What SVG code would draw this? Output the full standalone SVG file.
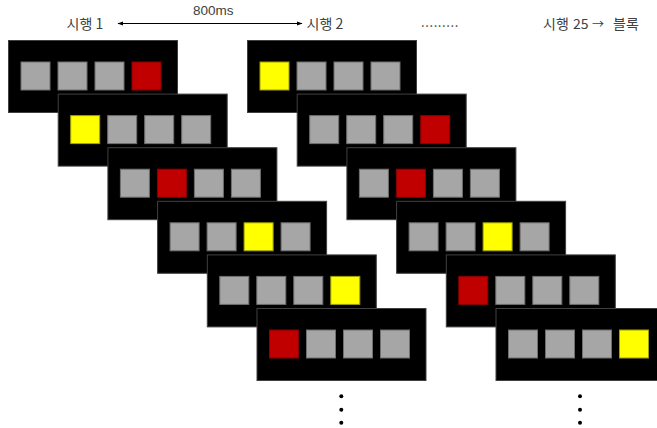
<svg xmlns="http://www.w3.org/2000/svg" width="657" height="428" viewBox="0 0 657 428">
<defs>
<style>
.panel{fill:#000;stroke:#404040;stroke-width:1}
.g{fill:#a6a6a6;stroke:#6f6f6f;stroke-width:1}
.r{fill:#c00000;stroke:#8a0000;stroke-width:1}
.y{fill:#ffff00;stroke:#a0a000;stroke-width:1}
.lbl{font-family:"Noto Sans CJK KR","Liberation Sans",sans-serif;font-size:14px;fill:#404040}
.dot{fill:#000}
</style>
<marker id="ah" viewBox="0 0 10 10" refX="9" refY="5" markerWidth="6" markerHeight="6" orient="auto-start-reverse" markerUnits="userSpaceOnUse">
<path d="M0,1.5 L10,5 L0,8.5 Z" fill="#000"/>
</marker>
</defs>
<rect width="657" height="428" fill="#fff"/>

<g id="labels">
<text class="lbl" x="66.5" y="29">시행 1</text>
<text class="lbl" x="193" y="15" style="font-family:'Liberation Sans',sans-serif;font-size:13.5px">800ms</text>
<text class="lbl" x="306.5" y="29">시행 2</text>
<text class="lbl" x="421" y="27" style="letter-spacing:0.6px;font-size:13px">.........</text>
<text class="lbl" x="543" y="29">시행</text>
<text class="lbl" x="573" y="29">25</text>
<text class="lbl" x="592" y="29" style="font-size:12px">→</text>
<text class="lbl" x="613" y="29">블록</text>
</g>

<g id="connectors">
<line x1="118" y1="23.5" x2="302" y2="23.5" stroke="#000" stroke-width="1" marker-start="url(#ah)" marker-end="url(#ah)"/>
</g>

<!-- Left column -->
<g id="L1" transform="translate(8,40)"><rect class="panel" x="0.5" y="0.5" width="169" height="72"/><rect class="g" x="13" y="22" width="29" height="28"/><rect class="g" x="50" y="22" width="29" height="28"/><rect class="g" x="87" y="22" width="29" height="28"/><rect class="r" x="124" y="22" width="29" height="28"/></g>
<g id="L2" transform="translate(57.7,93.6)"><rect class="panel" x="0.5" y="0.5" width="169" height="72"/><rect class="y" x="13" y="22" width="29" height="28"/><rect class="g" x="50" y="22" width="29" height="28"/><rect class="g" x="87" y="22" width="29" height="28"/><rect class="g" x="124" y="22" width="29" height="28"/></g>
<g id="L3" transform="translate(107.4,147.2)"><rect class="panel" x="0.5" y="0.5" width="169" height="72"/><rect class="g" x="13" y="22" width="29" height="28"/><rect class="r" x="50" y="22" width="29" height="28"/><rect class="g" x="87" y="22" width="29" height="28"/><rect class="g" x="124" y="22" width="29" height="28"/></g>
<g id="L4" transform="translate(157.1,200.8)"><rect class="panel" x="0.5" y="0.5" width="169" height="72"/><rect class="g" x="13" y="22" width="29" height="28"/><rect class="g" x="50" y="22" width="29" height="28"/><rect class="y" x="87" y="22" width="29" height="28"/><rect class="g" x="124" y="22" width="29" height="28"/></g>
<g id="L5" transform="translate(206.8,254.4)"><rect class="panel" x="0.5" y="0.5" width="169" height="72"/><rect class="g" x="13" y="22" width="29" height="28"/><rect class="g" x="50" y="22" width="29" height="28"/><rect class="g" x="87" y="22" width="29" height="28"/><rect class="y" x="124" y="22" width="29" height="28"/></g>
<g id="L6" transform="translate(256.5,308)"><rect class="panel" x="0.5" y="0.5" width="169" height="72"/><rect class="r" x="13" y="22" width="29" height="28"/><rect class="g" x="50" y="22" width="29" height="28"/><rect class="g" x="87" y="22" width="29" height="28"/><rect class="g" x="124" y="22" width="29" height="28"/></g>

<!-- Right column -->
<g id="R1" transform="translate(247,40)"><rect class="panel" x="0.5" y="0.5" width="169" height="72"/><rect class="y" x="13" y="22" width="29" height="28"/><rect class="g" x="50" y="22" width="29" height="28"/><rect class="g" x="87" y="22" width="29" height="28"/><rect class="g" x="124" y="22" width="29" height="28"/></g>
<g id="R2" transform="translate(296.7,93.6)"><rect class="panel" x="0.5" y="0.5" width="169" height="72"/><rect class="g" x="13" y="22" width="29" height="28"/><rect class="g" x="50" y="22" width="29" height="28"/><rect class="g" x="87" y="22" width="29" height="28"/><rect class="r" x="124" y="22" width="29" height="28"/></g>
<g id="R3" transform="translate(346.4,147.2)"><rect class="panel" x="0.5" y="0.5" width="169" height="72"/><rect class="g" x="13" y="22" width="29" height="28"/><rect class="r" x="50" y="22" width="29" height="28"/><rect class="g" x="87" y="22" width="29" height="28"/><rect class="g" x="124" y="22" width="29" height="28"/></g>
<g id="R4" transform="translate(396.1,200.8)"><rect class="panel" x="0.5" y="0.5" width="169" height="72"/><rect class="g" x="13" y="22" width="29" height="28"/><rect class="g" x="50" y="22" width="29" height="28"/><rect class="y" x="87" y="22" width="29" height="28"/><rect class="g" x="124" y="22" width="29" height="28"/></g>
<g id="R5" transform="translate(445.8,254.4)"><rect class="panel" x="0.5" y="0.5" width="169" height="72"/><rect class="r" x="13" y="22" width="29" height="28"/><rect class="g" x="50" y="22" width="29" height="28"/><rect class="g" x="87" y="22" width="29" height="28"/><rect class="g" x="124" y="22" width="29" height="28"/></g>
<g id="R6" transform="translate(495.5,308)"><rect class="panel" x="0.5" y="0.5" width="169" height="72"/><rect class="g" x="13" y="22" width="29" height="28"/><rect class="g" x="50" y="22" width="29" height="28"/><rect class="g" x="87" y="22" width="29" height="28"/><rect class="y" x="124" y="22" width="29" height="28"/></g>

<g id="ellipsis-left">
<circle class="dot" cx="341.3" cy="396.3" r="2"/><circle class="dot" cx="341.3" cy="409.7" r="2"/><circle class="dot" cx="341.3" cy="422.7" r="2"/>
</g>
<g id="ellipsis-right">
<circle class="dot" cx="580" cy="396.3" r="2"/><circle class="dot" cx="580" cy="409.7" r="2"/><circle class="dot" cx="580" cy="422.7" r="2"/>
</g>
</svg>
